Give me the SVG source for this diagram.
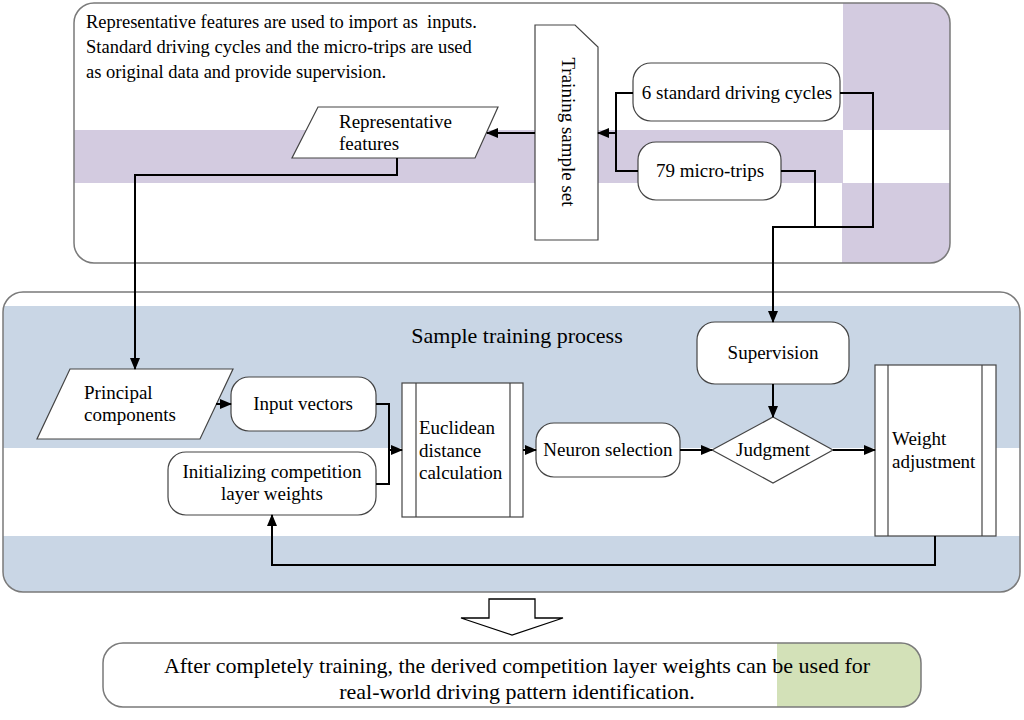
<svg xmlns="http://www.w3.org/2000/svg" width="1024" height="720" viewBox="0 0 1024 720">
<defs>
<marker id="ah" markerWidth="12" markerHeight="10" refX="11" refY="5" orient="auto" markerUnits="userSpaceOnUse">
<path d="M0,0 L12,5 L0,10 Z" fill="#000"/>
</marker>
<clipPath id="clipTop"><rect x="74" y="3" width="876" height="260" rx="20"/></clipPath>
<clipPath id="clipMid"><rect x="3" y="292" width="1017" height="300" rx="20"/></clipPath>
<clipPath id="clipBot"><rect x="103" y="643" width="818" height="64" rx="20"/></clipPath>
</defs>
<style>
text{font-family:"Liberation Serif","Times New Roman",serif;fill:#000}
.t{font-size:19px}
.c{text-anchor:middle}
.node{fill:#fff;stroke:#444;stroke-width:1.2}
.cont{fill:none;stroke:#7a7a7a;stroke-width:1.5}
.conn{fill:none;stroke:#000;stroke-width:2}
.para{font-size:18.5px}
</style>
<rect width="1024" height="720" fill="#fff"/>

<g id="container-top">
<rect x="74" y="3" width="876" height="260" rx="20" fill="#fff"/>
<g clip-path="url(#clipTop)" fill="#d3cbe0">
<rect x="74" y="130" width="769" height="53"/>
<rect x="843" y="0" width="110" height="130"/>
<rect x="842" y="183" width="110" height="85"/>
</g>
<rect x="74" y="3" width="876" height="260" rx="20" class="cont"/>
<text x="86" y="28" class="para">Representative features are used to import as&#160; inputs.</text>
<text x="86" y="53" class="para">Standard driving cycles and the micro-trips are used</text>
<text x="86" y="78" class="para">as original data and provide supervision.</text>
</g>

<g id="container-mid">
<rect x="3" y="292" width="1017" height="300" rx="20" fill="#fff"/>
<g clip-path="url(#clipMid)" fill="#c9d6e5">
<rect x="0" y="306" width="1024" height="142"/>
<rect x="0" y="536" width="1024" height="60"/>
</g>
<rect x="3" y="292" width="1017" height="300" rx="20" class="cont"/>
<text x="517" y="343" class="c" style="font-size:22px">Sample training process</text>
</g>

<g id="container-bottom">
<rect x="103" y="643" width="818" height="64" rx="20" fill="#fff"/>
<rect x="777" y="643" width="150" height="64" fill="#d3e1b8" clip-path="url(#clipBot)"/>
<rect x="103" y="643" width="818" height="64" rx="20" class="cont"/>
<text x="517" y="673" class="c" style="font-size:22px">After completely training, the derived competition layer weights can be used for</text>
<text x="517" y="699" class="c" style="font-size:22px">real-world driving pattern identification.</text>
</g>

<g id="big-arrow">
<polygon points="489,599 535,599 535,618 563,618 512,635 461,618 489,618" fill="#fff" stroke="#000" stroke-width="1.3"/>
</g>

<g id="training-sample-set">
<path d="M535,25 L575,25 L598,47 L598,240 L535,240 Z" class="node"/>
<text class="t c" transform="translate(562,132) rotate(90)">Training sample set</text>
</g>

<g id="standard-cycles">
<rect x="633" y="63" width="207" height="58" rx="18" class="node"/>
<text x="737" y="99" class="t c">6 standard driving cycles</text>
</g>

<g id="micro-trips">
<rect x="638" y="142" width="143" height="58" rx="18" class="node"/>
<text x="710" y="177" class="t c">79 micro-trips</text>
</g>

<g id="representative-features">
<polygon points="318,107 498,107 475,158 292,158" class="node"/>
<text x="339" y="128" class="t">Representative</text>
<text x="339" y="150" class="t">features</text>
</g>

<g id="principal-components">
<polygon points="70,369 233,369 200,439 37,439" class="node"/>
<text x="84" y="399" class="t">Principal</text>
<text x="84" y="421" class="t">components</text>
</g>

<g id="input-vectors">
<rect x="231" y="377" width="145" height="54" rx="18" class="node"/>
<text x="303" y="410" class="t c">Input vectors</text>
</g>

<g id="init-weights">
<rect x="168" y="452" width="208" height="63" rx="18" class="node"/>
<text x="272" y="478" class="t c">Initializing competition</text>
<text x="272" y="500" class="t c">layer weights</text>
</g>

<g id="euclidean">
<rect x="402" y="383" width="121" height="134" class="node"/>
<line x1="416" y1="383" x2="416" y2="517" stroke="#444" stroke-width="1.2"/>
<line x1="510" y1="383" x2="510" y2="517" stroke="#444" stroke-width="1.2"/>
<text x="419" y="434" class="t">Euclidean</text>
<text x="419" y="457" class="t">distance</text>
<text x="419" y="479" class="t">calculation</text>
</g>

<g id="neuron-selection">
<rect x="536" y="423" width="144" height="54" rx="18" class="node"/>
<text x="608" y="456" class="t c">Neuron selection</text>
</g>

<g id="supervision">
<rect x="697" y="322" width="152" height="62" rx="18" class="node"/>
<text x="773" y="359" class="t c">Supervision</text>
</g>

<g id="judgment">
<polygon points="773,417 833,450 773,483 712,450" class="node"/>
<text x="773" y="456" class="t c">Judgment</text>
</g>

<g id="weight-adjustment">
<rect x="875" y="365" width="121" height="171" class="node"/>
<line x1="888" y1="365" x2="888" y2="536" stroke="#444" stroke-width="1.2"/>
<line x1="982" y1="365" x2="982" y2="536" stroke="#444" stroke-width="1.2"/>
<text x="892" y="445" class="t">Weight</text>
<text x="892" y="468" class="t">adjustment</text>
</g>

<g id="connectors">
<polyline points="633,93 616,93 616,171 638,171" class="conn"/>
<line x1="616" y1="133" x2="598" y2="133" class="conn" marker-end="url(#ah)"/>
<line x1="535" y1="133" x2="487" y2="133" class="conn" marker-end="url(#ah)"/>
<polyline points="397,158 397,175 135,175 135,369" class="conn" marker-end="url(#ah)"/>
<polyline points="840,93 873,93 873,227 773,227 773,322" class="conn" marker-end="url(#ah)"/>
<polyline points="781,171 815,171 815,227" class="conn"/>
<line x1="216" y1="404" x2="231" y2="404" class="conn" marker-end="url(#ah)"/>
<polyline points="376,404 389,404 389,484 376,484" class="conn"/>
<line x1="389" y1="450" x2="402" y2="450" class="conn" marker-end="url(#ah)"/>
<line x1="523" y1="450" x2="536" y2="450" class="conn" marker-end="url(#ah)"/>
<line x1="680" y1="450" x2="712" y2="450" class="conn" marker-end="url(#ah)"/>
<line x1="773" y1="384" x2="773" y2="417" class="conn" marker-end="url(#ah)"/>
<line x1="833" y1="450" x2="875" y2="450" class="conn" marker-end="url(#ah)"/>
<polyline points="935,536 935,565 272,565 272,515" class="conn" marker-end="url(#ah)"/>
</g>
</svg>
